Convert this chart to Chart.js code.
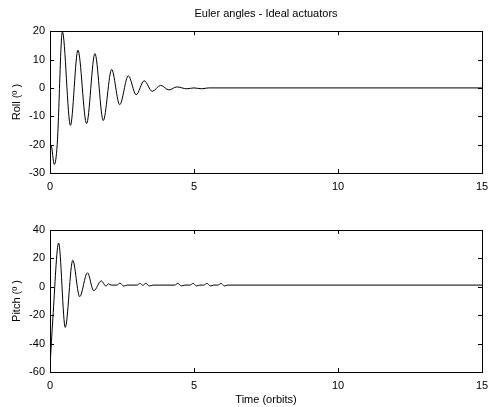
<!DOCTYPE html>
<html>
<head>
<meta charset="utf-8">
<title>Euler angles - Ideal actuators</title>
<script src="https://cdn.jsdelivr.net/npm/chart.js@4.4.1/dist/chart.umd.min.js"></script>
<style>
  html, body { margin: 0; padding: 0; background: #fff; }
  #wrap { position: relative; width: 488px; height: 407px; overflow: hidden; }
  #rollChart { position: absolute; left: 0; top: 0; }
  #pitchChart { position: absolute; left: 0; top: 200px; }
</style>
</head>
<body>
<div id="wrap">
  <canvas id="rollChart" width="488" height="200"></canvas>
  <canvas id="pitchChart" width="488" height="207"></canvas>
</div>
<script>
// roll angle response (orbits / degrees)
const rollTime = [0, 0.04, 0.15, 0.25, 0.43, 0.71, 0.97, 1.27, 1.56, 1.85, 2.14, 2.42, 2.72, 2.99, 3.27, 3.55, 3.84, 4.13, 4.4, 4.75, 5.0, 5.27, 5.5, 15];
const rollDeg = [-21.5, -20.5, -27, -20, 19.8, -13.2, 13.3, -12.6, 12.1, -11.5, 6.5, -5.9, 4.3, -2.4, 2.5, -1.2, 0.9, -0.7, 0.35, -0.3, 0, -0.3, 0, 0];

// pitch angle response (orbits / degrees)
const pitchTime = [0, 0.1, 0.3, 0.53, 0.79, 1.03, 1.3, 1.52, 1.78, 1.94, 2.03, 2.12, 2.32, 2.43, 2.56, 2.68, 3.02, 3.13, 3.22, 3.33, 3.45, 3.58, 4.33, 4.44, 4.56, 4.68, 4.86, 4.97, 5.09, 5.2, 5.34, 5.45, 5.57, 5.68, 5.83, 5.94, 6.06, 6.17, 15];
const pitchDeg = [-56, -22, 30.8, -28.6, 18.6, -7, 9.9, -2.8, 4.2, 0.5, 2.2, 1.2, 1.2, 2.6, 0.5, 1.2, 1.2, 2.4, 1.0, 2.4, 0.6, 1.2, 1.2, 2.4, 0.6, 1.2, 1.2, 2.4, 0.6, 1.2, 1.2, 2.4, 0.6, 1.2, 1.2, 2.4, 0.6, 1.2, 1.2];

const timeTicks = [0, 5, 10, 15];
const rollTicks = [-30, -20, -10, 0, 10, 20];
const pitchTicks = [-60, -40, -20, 0, 20, 40];

const FONT = { family: "'Liberation Sans', Arial, sans-serif", size: 11 };

// box round the axes, with short ticks pointing inwards on all four sides
const framePlugin = {
  id: 'frame',
  afterDatasetsDraw(chart) {
    const { ctx, chartArea: a, scales: { x, y } } = chart;
    const L = 4;
    ctx.save();
    ctx.strokeStyle = '#000';
    ctx.lineWidth = 1;
    ctx.strokeRect(Math.round(a.left) + 0.5, Math.round(a.top) + 0.5,
      Math.round(a.width), Math.round(a.height));
    ctx.beginPath();
    x.ticks.forEach(t => {
      const px = Math.round(x.getPixelForValue(t.value)) + 0.5;
      ctx.moveTo(px, a.bottom); ctx.lineTo(px, a.bottom - L);
      ctx.moveTo(px, a.top); ctx.lineTo(px, a.top + L);
    });
    y.ticks.forEach(t => {
      const py = Math.round(y.getPixelForValue(t.value)) + 0.5;
      ctx.moveTo(a.left, py); ctx.lineTo(a.left + L, py);
      ctx.moveTo(a.right, py); ctx.lineTo(a.right - L, py);
    });
    ctx.stroke();
    ctx.restore();
  }
};

function makeChart(id, times, values, yTicks, yLabel, opt) {
  const points = times.map((t, i) => ({ x: t, y: values[i] }));
  return new Chart(document.getElementById(id), {
    type: 'line',
    data: {
      datasets: [{
        data: points,
        borderColor: '#000',
        borderWidth: 1,
        pointRadius: 0,
        cubicInterpolationMode: 'monotone',
        fill: false
      }]
    },
    options: {
      responsive: false,
      animation: false,
      events: [],
      layout: { padding: { top: opt.padTop, right: 6, left: 0, bottom: 0 } },
      plugins: {
        legend: { display: false },
        tooltip: { enabled: false },
        title: {
          display: !!opt.title,
          text: opt.title || '',
          color: '#000',
          font: { ...FONT, weight: 'normal' },
          fullSize: false,
          padding: { top: 7, bottom: 11 }
        }
      },
      scales: {
        x: {
          type: 'linear',
          min: timeTicks[0],
          max: timeTicks[timeTicks.length - 1],
          afterBuildTicks: s => { s.ticks = timeTicks.map(v => ({ value: v })); },
          ticks: { color: '#000', font: FONT, padding: 7, maxRotation: 0 },
          grid: { display: false, drawTicks: false },
          border: { display: false },
          title: {
            display: !!opt.xTitle,
            text: opt.xTitle || '',
            color: '#000',
            font: FONT,
            padding: { top: 0, bottom: 0 }
          },
          afterFit: s => {
            s.height = opt.xHeight;
            s.paddingLeft = 0;
            s.paddingRight = 0;
          }
        },
        y: {
          type: 'linear',
          min: yTicks[0],
          max: yTicks[yTicks.length - 1],
          afterBuildTicks: s => { s.ticks = yTicks.map(v => ({ value: v })); },
          ticks: { color: '#000', font: FONT, padding: 5 },
          grid: { display: false, drawTicks: false },
          border: { display: false },
          title: {
            display: true,
            text: yLabel,
            color: '#000',
            font: FONT,
            padding: { top: 10, bottom: 0 }
          },
          afterFit: s => {
            s.width = 50;
            s.paddingTop = 0;
            s.paddingBottom = 0;
          }
        }
      }
    },
    plugins: [framePlugin]
  });
}

makeChart('rollChart', rollTime, rollDeg, rollTicks, 'Roll (º )',
  { title: 'Euler angles - Ideal actuators', padTop: 0, xHeight: 27 });
makeChart('pitchChart', pitchTime, pitchDeg, pitchTicks, 'Pitch (º )',
  { padTop: 30, xHeight: 35, xTitle: 'Time (orbits)' });
</script>
</body>
</html>
